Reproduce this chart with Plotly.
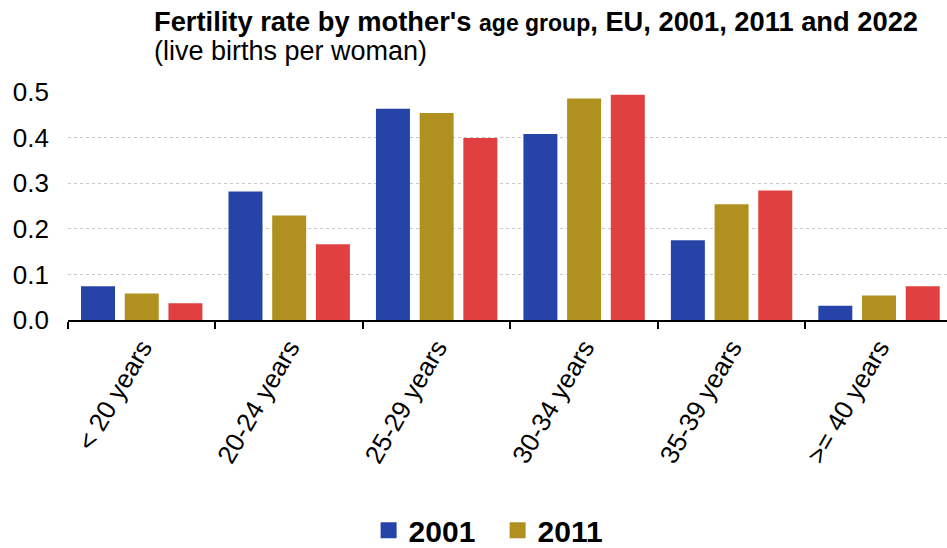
import plotly.graph_objects as go

# Age groups of the mother
age_groups = ["< 20 years", "20-24 years", "25-29 years", "30-34 years", "35-39 years", ">= 40 years"]

# Fertility rate (live births per woman) by year
rate_2001 = [0.074, 0.282, 0.463, 0.408, 0.175, 0.031]
rate_2011 = [0.058, 0.229, 0.454, 0.486, 0.254, 0.054]
rate_2022 = [0.037, 0.166, 0.399, 0.494, 0.284, 0.074]

years = ["2001", "2011", "2022"]
series = [rate_2001, rate_2011, rate_2022]
colors = ["#2644A7", "#B09120", "#E04040"]

y_ticks = [0.0, 0.1, 0.2, 0.3, 0.4, 0.5]

FONT = "Liberation Sans, Arial, sans-serif"

fig = go.Figure()

for year, values, color in zip(years, series, colors):
    fig.add_trace(go.Bar(
        x=age_groups,
        y=values,
        name=year,
        marker=dict(color=color, line=dict(width=0)),
        showlegend=False,
        hovertemplate="%{x}<br>" + year + ": %{y:.3f}<extra></extra>",
    ))

# Legend keys with larger square swatches
for year, color in zip(years[:2], colors[:2]):
    fig.add_trace(go.Scatter(
        x=[None], y=[None],
        mode="markers",
        name=year,
        marker=dict(symbol="square", size=16, color=color),
        showlegend=True,
    ))

fig.update_layout(
    width=947,
    height=548,
    margin=dict(l=68, r=0, t=92, b=227.5, autoexpand=False),
    paper_bgcolor="white",
    plot_bgcolor="white",
    font=dict(family=FONT, color="black"),
    barmode="group",
    bargap=0.111,
    bargroupgap=0.222,
    legend=dict(
        orientation="h",
        x=0.342, xanchor="left",
        y=-0.808, yanchor="top",
        font=dict(family=FONT, size=30, color="black", weight="bold"),
        entrywidth=84, entrywidthmode="pixels",
        bgcolor="rgba(0,0,0,0)",
    ),
    annotations=[
        dict(
            text="<b>Fertility rate by mother's <span style=\"font-size:23px\">age group</span>, EU, 2001, 2011 and 2022</b>",
            xref="paper", yref="paper",
            x=0.0955, y=1.309,
            xanchor="left", yanchor="middle",
            showarrow=False,
            font=dict(family=FONT, size=27.3, color="black"),
        ),
        dict(
            text="(live births per woman)",
            xref="paper", yref="paper",
            x=0.0955, y=1.178,
            xanchor="left", yanchor="middle",
            showarrow=False,
            font=dict(family=FONT, size=27, color="black"),
        ),
    ],
)

fig.update_xaxes(
    type="category",
    range=[-0.5, 5.461],
    tickson="boundaries",
    ticks="outside",
    ticklen=7,
    tickwidth=2,
    tickcolor="black",
    showline=True,
    linecolor="black",
    linewidth=2,
    showgrid=False,
    tickangle=-60,
    tickfont=dict(family=FONT, size=26, color="black"),
)

fig.update_yaxes(
    range=[0, 0.5],
    tickvals=y_ticks,
    ticktext=[f"{v:.1f}" for v in y_ticks],
    showgrid=True,
    gridcolor="#c8c8c8",
    gridwidth=1,
    griddash="dot",
    zeroline=False,
    showline=False,
    ticks="",
    ticklabelstandoff=18,
    tickfont=dict(family=FONT, size=26, color="black"),
)

fig.write_html("out.html")
